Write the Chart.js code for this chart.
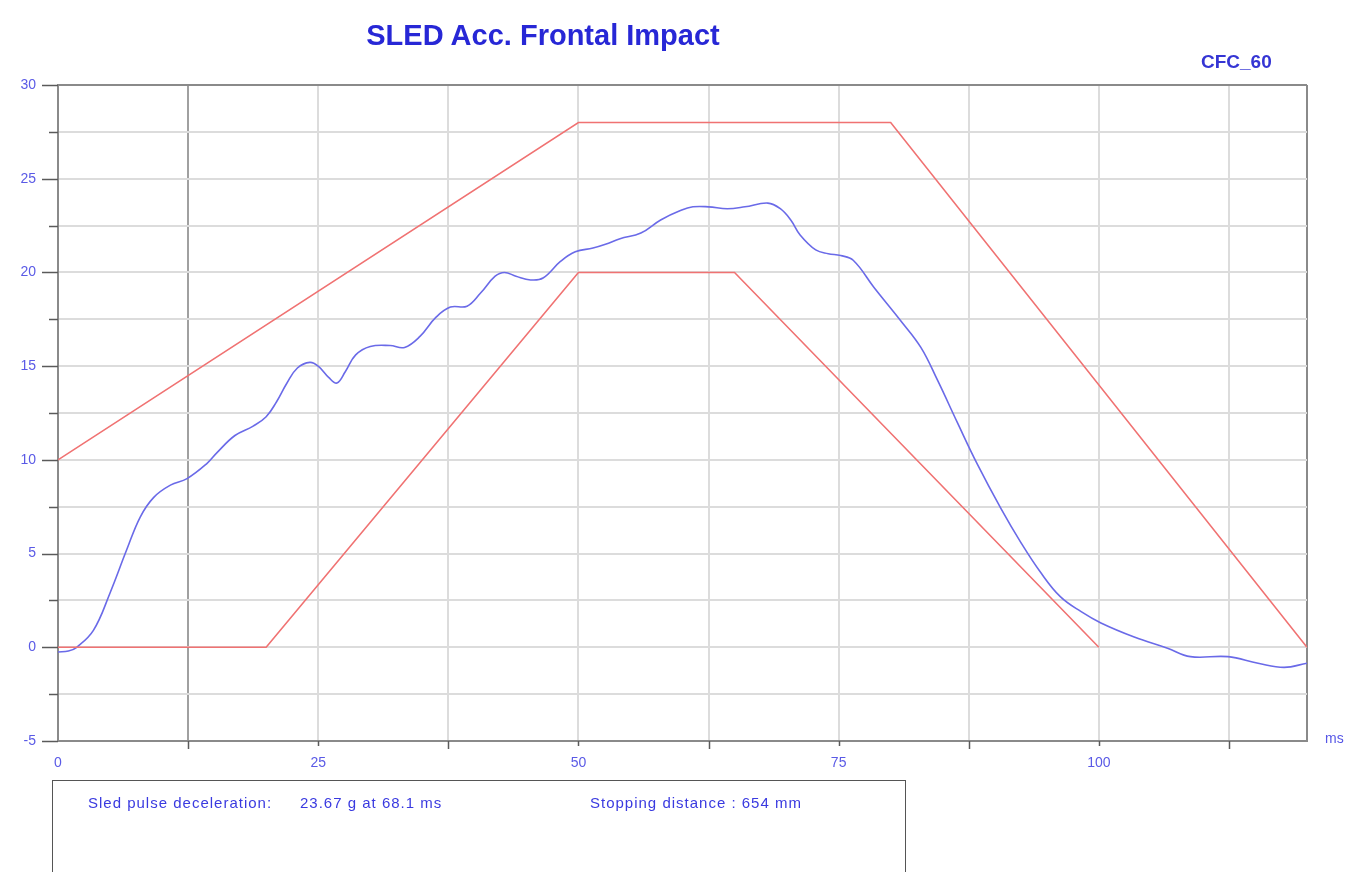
<!DOCTYPE html>
<html>
<head>
<meta charset="utf-8">
<script src="https://cdn.jsdelivr.net/npm/chart.js@4"></script>
<style>
  html, body { margin:0; padding:0; background:#fff; width:1346px; height:872px; overflow:hidden; }
  #wrap { position:relative; width:1346px; height:872px; }
  canvas { position:absolute; left:0; top:0; }
  .t { position:absolute; font-family:"Liberation Sans", Arial, sans-serif; white-space:nowrap; }
</style>
</head>
<body>
<div id="wrap">
  <canvas id="c" width="1346" height="872"></canvas>
  <div class="t" style="left:0;width:1086px;text-align:center;top:17px;font-size:29px;font-weight:bold;color:#2727d6;line-height:36px;">SLED Acc. Frontal Impact</div>
  <div class="t" style="left:1201px;top:50px;font-size:19px;font-weight:bold;color:#3535d4;line-height:24px;">CFC_60</div>
  <div class="t" style="left:1325px;top:729px;font-size:14px;color:#5656e6;line-height:18px;">ms</div>
  <div style="position:absolute;left:52px;top:780px;width:854px;height:140px;border:1px solid #555;box-sizing:border-box;"></div>
  <div class="t" style="left:88px;top:794px;font-size:15px;letter-spacing:1px;color:#3a3ae0;line-height:18px;">Sled pulse deceleration:</div>
  <div class="t" style="left:300px;top:794px;font-size:15px;letter-spacing:1px;color:#3a3ae0;line-height:18px;">23.67 g at 68.1 ms</div>
  <div class="t" style="left:590px;top:794px;font-size:15px;letter-spacing:1px;color:#3a3ae0;line-height:18px;">Stopping distance : 654 mm</div>
</div>
<script>
// ---- data ----
const timeMs = [0, 1, 1.8, 3.4, 5, 6.6, 7.9, 9.2, 10.8, 12.4, 14.3, 15.3, 17, 18.75, 20, 21, 22, 23, 24.2, 25, 26, 26.8, 27.6, 28.6, 30, 31.9, 33.3, 34.8, 36.3, 37.7, 39.3, 40.6, 42, 42.9, 44, 45.4, 46.6, 48.3, 49.7, 51.4, 52.6, 54, 56, 57.9, 59.8, 61, 62.5, 64.3, 66, 68.2, 69.4, 70.4, 71.3, 72.8, 74, 75.2, 76.4, 78.4, 81, 82.9, 84.5, 86.4, 88.3, 90.6, 92.5, 94.4, 96.3, 98.3, 100.2, 103.4, 106.6, 108.8, 112.4, 115.3, 117.8, 120];
const accelG = [-0.25, -0.2, 0, 0.9, 2.9, 5.2, 6.95, 8.0, 8.65, 9.0, 9.8, 10.4, 11.3, 11.8, 12.3, 13.1, 14.1, 14.9, 15.2, 15.0, 14.4, 14.1, 14.7, 15.6, 16.05, 16.1, 16.0, 16.6, 17.6, 18.15, 18.2, 18.9, 19.8, 20.0, 19.8, 19.6, 19.7, 20.6, 21.1, 21.3, 21.5, 21.8, 22.1, 22.8, 23.3, 23.5, 23.5, 23.4, 23.5, 23.7, 23.4, 22.8, 22.0, 21.2, 21.0, 20.9, 20.65, 19.2, 17.4, 16.0, 14.25, 12.0, 9.8, 7.4, 5.6, 4.0, 2.7, 1.9, 1.3, 0.55, -0.05, -0.5, -0.5, -0.85, -1.07, -0.85];
const upperT = [0, 50, 80, 120];
const upperG = [10, 28, 28, 0];
const lowerT = [0, 20, 50, 65, 100];
const lowerG = [0, 0, 20, 20, 0];
const xTicks = [0, 12.5, 25, 37.5, 50, 62.5, 75, 87.5, 100, 112.5, 120];
const yTicks = [-5, -2.5, 0, 2.5, 5, 7.5, 10, 12.5, 15, 17.5, 20, 22.5, 25, 27.5, 30];
const xMajorStep = 25;
const yMajorStep = 5;

const toPts = (xs, ys) => xs.map((x, i) => ({x: x, y: ys[i]}));

const gridColor = (edgeVals, darkVals) => (ctx) => {
  const v = ctx.tick ? ctx.tick.value : null;
  if (edgeVals.includes(v)) return '#8a8a8a';
  if (darkVals.includes(v)) return '#a0a0a0';
  return '#dcdcdc';
};

const tickMarks = {
  id: 'tickMarks',
  afterDraw(chart) {
    const {ctx, chartArea, scales} = chart;
    ctx.save();
    ctx.strokeStyle = '#5a5a5a';
    ctx.lineWidth = 1.5;
    scales.y.ticks.forEach(t => {
      const py = Math.round(scales.y.getPixelForValue(t.value)) + 0.5;
      const len = (t.value % yMajorStep === 0) ? 16 : 9;
      ctx.beginPath();
      ctx.moveTo(chartArea.left - len, py);
      ctx.lineTo(chartArea.left, py);
      ctx.stroke();
    });
    scales.x.ticks.forEach(t => {
      if (t.value === 0 || t.value === 120) return;
      const px = Math.round(scales.x.getPixelForValue(t.value)) + 0.5;
      const len = (t.value % xMajorStep === 0) ? 5 : 8;
      ctx.beginPath();
      ctx.moveTo(px, chartArea.bottom);
      ctx.lineTo(px, chartArea.bottom + len);
      ctx.stroke();
    });
    ctx.restore();
  }
};

new Chart(document.getElementById('c'), {
  type: 'scatter',
  data: {
    datasets: [
      { data: toPts(upperT, upperG), showLine: true, borderColor: '#f07272', borderWidth: 1.6, pointRadius: 0, tension: 0 },
      { data: toPts(lowerT, lowerG), showLine: true, borderColor: '#f07272', borderWidth: 1.6, pointRadius: 0, tension: 0 },
      { data: toPts(timeMs, accelG), showLine: true, borderColor: '#6a6ae8', borderWidth: 1.6, pointRadius: 0, tension: 0.4 }
    ]
  },
  options: {
    responsive: false,
    animation: false,
    events: [],
    layout: { padding: { left: 0, top: 85, right: 39, bottom: 91 } },
    plugins: { legend: { display: false }, tooltip: { enabled: false }, title: { display: false } },
    scales: {
      x: {
        type: 'linear', min: 0, max: 120,
        afterBuildTicks: (s) => { s.ticks = xTicks.map(v => ({value: v})); },
        afterFit: (s) => { s.height = 40; },
        border: { color: '#8a8a8a', width: 2 },
        grid: { color: gridColor([120], [12.5]), lineWidth: 2, tickLength: 8, tickColor: 'transparent' },
        ticks: {
          padding: 6, color: '#5a5ae6', maxRotation: 0, autoSkip: false,
          font: { family: 'Liberation Sans, Arial, sans-serif', size: 14 },
          callback: (v) => (v % xMajorStep === 0 ? String(v) : '')
        }
      },
      y: {
        type: 'linear', min: -5, max: 30,
        afterBuildTicks: (s) => { s.ticks = yTicks.map(v => ({value: v})); },
        afterFit: (s) => { s.width = 58; },
        border: { color: '#8a8a8a', width: 2 },
        grid: { color: gridColor([30], []), lineWidth: 2, tickLength: 16, tickColor: 'transparent' },
        ticks: {
          padding: 6, color: '#5a5ae6', autoSkip: false,
          font: { family: 'Liberation Sans, Arial, sans-serif', size: 14 },
          callback: (v) => (v % yMajorStep === 0 ? String(v) : '')
        }
      }
    }
  },
  plugins: [tickMarks]
});
</script>
</body>
</html>
